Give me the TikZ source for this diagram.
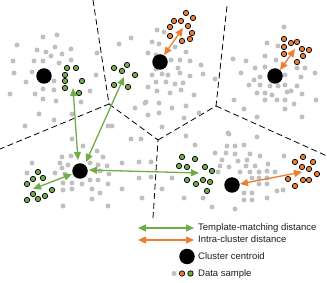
\documentclass[tikz,border=0pt]{standalone}
\usepackage{fontspec}
\setmainfont{Liberation Sans}
\usetikzlibrary{arrows.meta}
\definecolor{dgreen}{RGB}{112,173,71}
\definecolor{dorange}{RGB}{237,125,49}
\definecolor{dgray}{RGB}{192,192,192}
\definecolor{ink}{RGB}{30,30,30}
\tikzset{
  voronoi/.style={draw=black, line width=0.8pt, dash pattern=on 6pt off 3.5pt},
  centroid/.style={circle, fill=black, inner sep=0pt, minimum size=15.5pt},
  gtwo/.style={dgreen, line width=1.3pt, {Triangle[length=8pt,width=7pt]}-{Triangle[length=8pt,width=7pt]}},
  otwo/.style={dorange, line width=1.3pt, {Triangle[length=8pt,width=7pt]}-{Triangle[length=8pt,width=7pt]}},
  legtext/.style={anchor=base west, inner sep=0pt, text=ink, font=\fontsize{9.5}{11}\selectfont}
}
\begin{document}
\begin{tikzpicture}[x=1pt,y=-1pt]
\useasboundingbox (0,0) rectangle (327,283);
% Voronoi boundaries
\coordinate (j1) at (109,104);
\coordinate (j2) at (158,140);
\coordinate (j3) at (216,106);
\coordinate (e1) at (93,0);
\coordinate (e2) at (0,149);
\coordinate (e3) at (153,218);
\coordinate (e4) at (227,6);
\coordinate (e5) at (327,156);
\draw[voronoi] (e1) -- (j1) -- (e2);
\draw[voronoi] (j1) -- (j2) -- (e3);
\draw[voronoi] (j2) -- (j3) -- (e4);
\draw[voronoi] (j3) -- (e5);
% gray data samples
\foreach \p in {
 (57,35),(43,37),(17,45),(55,47),(37,50),(46,52),(71,49),(51,56),(62,54),(97,53),
 (13,61),(34,61),(43,61),(59,63),(71,60),(14,73),(32,72),(96,75),(26,82),(54,81),
 (43,89),(54,90),(10,94),(35,94),(90,91),(43,99),(56,101),(81,102),(39,114),(72,114),
 (54,120),(25,126),(72,139),(108,126),
 (157,30),(164,32),(131,38),(119,44),(152,42),(159,44),(175,47),(148,53),(156,55),(186,52),
 (171,60),(180,60),(190,61),(201,65),(156,69),(178,68),(152,75),(162,74),(168,75),(180,73),
 (190,76),(203,74),(215,79),(156,82),(166,82),(175,84),(183,83),(148,87),(157,91),(170,93),
 (181,90),(194,95),(146,102),(159,103),(135,108),(145,103),(172,108),(186,106),(148,115),(159,113),
 (184,118),(199,113),(112,126),(162,127),(131,139),(141,139),(186,136),
 (284,27),(267,43),(278,46),(265,56),(276,60),(233,59),(246,61),(265,67),(297,68),(305,68),
 (241,73),(255,68),(260,77),(254,80),(285,75),(301,77),(315,73),(249,85),(260,85),(270,86),
 (278,86),(285,85),(297,86),(287,92),(257,93),(265,93),(272,95),(291,91),(302,94),(234,100),
 (265,100),(277,100),(285,100),(294,104),(316,100),(244,109),(285,109),(257,117),(302,117),
 (229,134),(257,137),
 (62,157),(71,156),(83,146),(97,151),(103,157),(32,163),(60,163),(68,165),(90,163),(98,165),
 (62,168),(27,173),(55,173),(65,174),(90,180),(100,171),(107,166),(63,183),(72,183),(98,180),
 (82,184),(108,184),(63,190),(72,189),(92,189),(100,193),(92,199),(63,206),(108,206),
 (122,163),(139,162),(151,162),(109,174),(139,178),(151,177),(172,178),(122,189),(162,189),
 (142,198),(184,198),(195,145),
 (228,133),(227,146),(235,146),(244,145),(215,153),(226,153),(235,154),(250,154),(260,156),
 (284,156),(222,160),(238,161),(247,160),(220,166),(229,167),(246,166),(255,166),(268,164),
 (218,172),(240,172),(250,172),(259,172),(267,171),(275,172),(252,178),(259,178),(267,178),
 (259,184),(267,184),(277,191),(283,190),(244,193),(252,193),(244,200),(252,200),(267,198),
 (235,209),(212,207),(203,198)}
  \fill[dgray] \p circle (2.5pt);
% green samples
\foreach \p in {(67,68),(76,68),(65,75),(65,81),(82,81),(65,88),(79,93),
 (114,68),(122,71),(127,65),(135,75),(114,85),(128,87),
 (38,172),(43,178),(33,179),(27,184),(52,190),(33,194),(45,196),(27,200),(38,199),
 (182,157),(195,159),(179,166),(187,167),(205,167),(212,171),(187,180),(196,184),(203,180),(210,182),(207,191)}
  \filldraw[fill=dgreen, draw=black, line width=0.7pt] \p circle (2.7pt);
% orange samples
\foreach \p in {(186,13),(193,18),(174,21),(181,21),(170,27),(188,26),(192,33),(170,36),(182,41),(190,39),
 (284,39),(291,43),(297,42),(284,47),(302,49),(309,50),(284,54),(303,56),(297,62),
 (303,157),(295,162),(313,162),(302,167),(309,169),(317,174),(288,179),(303,180),(309,180),(295,186)}
  \filldraw[fill=dorange, draw=black, line width=0.7pt] \p circle (2.7pt);
% centroids
\node[centroid] (c1) at (44,76) {};
\node[centroid] (c2) at (160,62) {};
\node[centroid] (c3) at (275,76) {};
\node[centroid] (c4) at (80,171) {};
\node[centroid] (c5) at (232,185) {};
% arrow end points
\coordinate (ga1) at (73,88);   \coordinate (gb1) at (78,160);
\coordinate (ga2) at (124,77);  \coordinate (gb2) at (86,162);
\coordinate (ga3) at (89,170);  \coordinate (gb3) at (199,173);
\coordinate (ga4) at (33,189);  \coordinate (gb4) at (72,174);
\coordinate (oa1) at (183,28);  \coordinate (ob1) at (164,55);
\coordinate (oa2) at (295,49);  \coordinate (ob2) at (280,70);
\coordinate (oa3) at (240,184); \coordinate (ob3) at (302,172);
\draw[gtwo] (ga1) -- (gb1);
\draw[gtwo] (ga2) -- (gb2);
\draw[gtwo] (ga3) -- (gb3);
\draw[gtwo] (ga4) -- (gb4);
\draw[otwo] (oa1) -- (ob1);
\draw[otwo] (oa2) -- (ob2);
\draw[otwo] (oa3) -- (ob3);
% legend
\coordinate (lg1) at (138,228); \coordinate (lg2) at (194,228);
\coordinate (lo1) at (138,240); \coordinate (lo2) at (194,240);
\draw[gtwo] (lg1) -- (lg2);
\draw[otwo] (lo1) -- (lo2);
\node[legtext] (t1) at (198,231) {Template-matching distance};
\node[legtext] (t2) at (198,243) {Intra-cluster distance};
\node[centroid] (lc) at (187,256.5) {};
\node[legtext] (t3) at (198,259.5) {Cluster centroid};
\fill[dgray] (174,273.5) circle (2.5pt);
\filldraw[fill=dorange, draw=black, line width=0.7pt] (182,273.5) circle (2.7pt);
\filldraw[fill=dgreen, draw=black, line width=0.7pt] (190.5,273.5) circle (2.7pt);
\node[legtext] (t4) at (198,276.5) {Data sample};
\end{tikzpicture}
\end{document}
